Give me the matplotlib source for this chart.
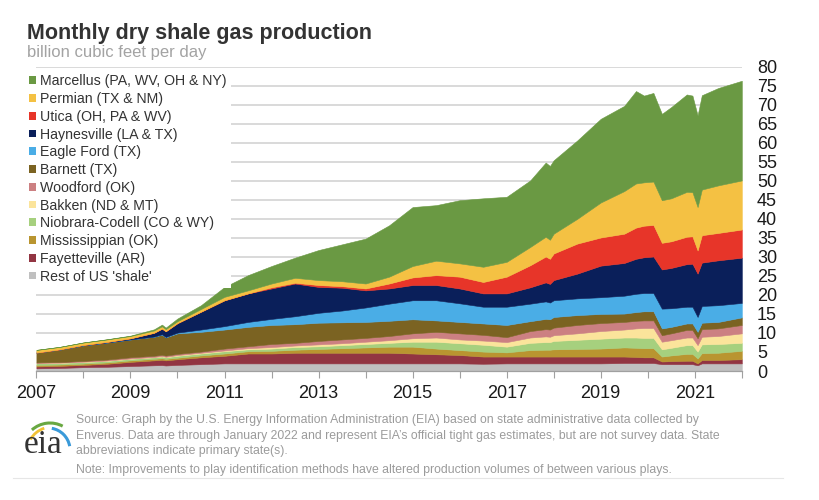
import numpy as np
import matplotlib
matplotlib.use('Agg')
import matplotlib.pyplot as plt
from matplotlib.patches import Patch, Arc

# month positions (decimal years)
dates = [2007.0, 2007.5, 2008.0, 2008.5, 2009.0, 2009.5, 2009.67, 2009.75, 2010.0, 2010.5,
         2011.0, 2011.5, 2012.0, 2012.5, 2013.0, 2013.5, 2014.0, 2014.5, 2015.0, 2015.5,
         2016.0, 2016.5, 2017.0, 2017.5, 2017.83, 2017.92, 2018.0, 2018.5, 2019.0, 2019.5,
         2019.75, 2019.92, 2020.12, 2020.3, 2020.5, 2020.83, 2020.95, 2021.06, 2021.15, 2021.5,
         2022.0]

# billion cubic feet per day, bottom layer first
rest = [0.7, 0.8, 1.0, 1.1, 1.3, 1.5, 1.55, 1.45, 1.6, 1.8,
        2.0, 2.0, 2.0, 2.0, 2.0, 2.0, 2.0, 2.0, 2.0, 2.0,
        2.0, 1.9, 2.0, 2.0, 2.0, 2.0, 2.0, 2.0, 2.0, 2.1,
        2.1, 2.1, 2.1, 1.8, 1.8, 1.8, 1.8, 1.5, 2.0, 2.0,
        2.0]
fayetteville = [0.5, 0.55, 0.6, 0.8, 1.1, 1.3, 1.4, 1.35, 1.5, 1.8,
                2.0, 2.6, 2.6, 2.8, 2.8, 2.8, 2.8, 2.8, 2.6, 2.4,
                2.2, 1.9, 1.8, 1.8, 1.8, 1.8, 1.8, 1.8, 1.8, 1.7,
                1.6, 1.5, 1.5, 0.7, 0.8, 0.9, 0.9, 0.5, 0.9, 0.9,
                1.1]
mississippian = [0.4, 0.35, 0.35, 0.35, 0.4, 0.4, 0.4, 0.4, 0.4, 0.5,
                 0.6, 0.6, 0.7, 0.8, 1.0, 1.2, 1.4, 1.6, 1.8, 1.5,
                 1.3, 1.3, 1.1, 1.7, 1.8, 1.8, 1.9, 2.0, 2.1, 2.4,
                 2.4, 2.4, 2.4, 1.3, 1.5, 1.8, 1.8, 1.3, 1.8, 1.9,
                 2.2]
niobrara = [0.5, 0.45, 0.4, 0.4, 0.4, 0.4, 0.45, 0.4, 0.5, 0.5,
            0.6, 0.5, 0.6, 0.7, 0.7, 0.8, 0.9, 1.0, 1.3, 1.8,
            1.8, 1.8, 1.5, 1.9, 2.0, 2.0, 2.2, 2.4, 2.6, 2.6,
            2.7, 2.7, 2.7, 1.9, 2.0, 2.3, 2.3, 1.8, 2.3, 2.3,
            2.1]
bakken = [0.05, 0.05, 0.1, 0.1, 0.1, 0.1, 0.15, 0.15, 0.2, 0.2,
          0.2, 0.3, 0.4, 0.4, 0.5, 0.5, 0.6, 0.7, 0.9, 1.1,
          1.0, 1.1, 1.2, 1.4, 1.5, 1.4, 1.5, 1.7, 2.0, 2.1,
          2.4, 2.6, 2.6, 2.0, 2.0, 2.0, 2.0, 1.7, 2.0, 2.1,
          2.5]
woodford = [0.1, 0.15, 0.2, 0.25, 0.3, 0.3, 0.3, 0.3, 0.3, 0.3,
            0.5, 0.5, 0.8, 0.7, 0.9, 1.0, 1.0, 1.1, 1.3, 1.5,
            1.6, 1.5, 1.3, 1.7, 1.9, 1.9, 2.0, 2.2, 2.1, 2.0,
            2.0, 2.0, 2.0, 1.7, 1.8, 2.0, 2.0, 1.8, 2.0, 2.0,
            2.2]
barnett = [2.6, 3.3, 4.1, 4.5, 4.7, 5.0, 5.3, 4.8, 5.4, 5.2,
           5.0, 5.1, 5.0, 4.9, 4.8, 4.5, 4.2, 4.0, 3.7, 3.0,
           3.0, 3.0, 3.2, 2.6, 2.7, 2.7, 2.8, 2.6, 2.4, 2.2,
           2.3, 2.4, 2.4, 1.8, 1.7, 1.7, 1.7, 1.7, 1.7, 1.7,
           2.0]
eagle_ford = [0.0, 0.0, 0.0, 0.0, 0.0, 0.05, 0.1, 0.1, 0.2, 0.6,
              0.9, 1.3, 1.6, 2.1, 2.6, 3.1, 3.8, 4.5, 5.0, 5.3,
              4.9, 4.4, 4.8, 4.6, 4.6, 4.4, 4.4, 4.4, 4.4, 4.7,
              4.8, 4.8, 4.8, 5.2, 4.9, 4.4, 4.4, 3.9, 4.4, 4.4,
              3.8]
haynesville = [0.0, 0.05, 0.1, 0.15, 0.3, 1.0, 1.5, 1.5, 2.5, 4.7,
               6.8, 7.5, 8.0, 8.6, 6.8, 6.0, 4.5, 4.0, 4.0, 4.0,
               3.9, 3.5, 3.5, 4.3, 5.0, 4.9, 5.3, 6.5, 8.3, 8.6,
               9.2, 9.4, 9.6, 10.3, 10.6, 11.2, 11.3, 11.4, 11.4, 11.8,
               11.9]
utica = [0.0, 0.0, 0.0, 0.0, 0.0, 0.0, 0.0, 0.0, 0.0, 0.0,
         0.0, 0.0, 0.3, 0.2, 0.5, 0.4, 0.5, 1.3, 2.0, 2.6,
         3.1, 3.0, 4.4, 5.8, 6.8, 6.6, 7.0, 7.9, 7.4, 7.7,
         8.2, 8.3, 8.3, 7.0, 7.0, 7.2, 7.2, 6.1, 7.2, 7.2,
         7.4]
permian = [0.7, 0.65, 0.65, 0.65, 0.6, 0.6, 0.6, 0.55, 0.5, 0.7,
           0.9, 0.8, 1.0, 1.3, 1.3, 1.3, 1.3, 1.8, 3.0, 3.8,
           3.5, 4.0, 3.9, 4.8, 5.2, 5.0, 5.2, 6.5, 9.2, 11.2,
           11.6, 11.4, 11.4, 11.2, 11.3, 11.8, 11.6, 11.4, 12.0, 12.5,
           12.9]
marcellus = [0.0, 0.0, 0.0, 0.05, 0.1, 0.3, 0.45, 0.4, 0.7, 1.0,
             2.6, 4.0, 4.6, 5.3, 7.9, 9.7, 11.8, 13.5, 15.5, 14.6,
             16.6, 18.0, 17.1, 17.5, 19.5, 19.4, 19.3, 20.6, 22.0, 22.4,
             24.3, 22.8, 23.3, 22.7, 24.0, 25.6, 25.4, 24.1, 24.8, 25.6,
             26.2]

series = [rest, fayetteville, mississippian, niobrara, bakken, woodford,
          barnett, eagle_ford, haynesville, utica, permian, marcellus]
labels = ["Rest of US 'shale'", "Fayetteville (AR)", "Mississippian (OK)",
          "Niobrara-Codell (CO & WY)", "Bakken (ND & MT)", "Woodford (OK)",
          "Barnett (TX)", "Eagle Ford (TX)", "Haynesville (LA & TX)",
          "Utica (OH, PA & WV)", "Permian (TX & NM)", "Marcellus (PA, WV, OH & NY)"]
colors = ['#c0c0c0', '#923542', '#b99530', '#a6d07e', '#fbe49b', '#cc8082',
          '#7b6322', '#4aade6', '#0a1f5a', '#e73529', '#f4c143', '#6a9943']

year_ticks = list(range(2007, 2022, 2))

footer_lines = [
    "Source: Graph by the U.S. Energy Information Administration (EIA) based on state administrative data collected by",
    "Enverus. Data are through January 2022 and represent EIA\u2019s official tight gas estimates, but are not survey data. State",
    "abbreviations indicate primary state(s).",
]
note = "Note: Improvements to play identification methods have altered production volumes of between various plays."

plt.rcParams['font.family'] = ['Liberation Sans', 'DejaVu Sans']

fig = plt.figure(figsize=(8.2, 5.0), dpi=100)
ax = fig.add_axes([36.4 / 820, 1 - 371 / 500, (741.8 - 36.4) / 820, (371 - 66.7) / 500])

ax.stackplot(dates, *series, colors=colors, linewidth=0.4,
             edgecolor='face')

ax.set_xlim(2007, 2022)
ax.set_ylim(0, 80)
ax.set_yticks(np.arange(0, 81, 5))
ax.yaxis.tick_right()
ax.tick_params(axis='y', length=0, pad=11, labelsize=13, labelcolor='#1a1a1a')
ax.set_xticks(year_ticks)
ax.set_xticks(range(2007, 2023), minor=True)
ax.tick_params(axis='x', which='both', length=5, width=0.8, color='#a0a0a0',
               direction='out')
ax.tick_params(axis='x', which='major', pad=5, labelsize=13, labelcolor='#1a1a1a')
ax.grid(axis='y', color='#d9d9d9', linewidth=1.4)
ax.set_axisbelow(True)
for side in ['top', 'left', 'right']:
    ax.spines[side].set_visible(False)
ax.spines['bottom'].set_color('#a0a0a0')
ax.spines['bottom'].set_linewidth(0.9)

handles = [Patch(facecolor=c, edgecolor='none') for c in colors[::-1]]
leg = ax.legend(handles, labels[::-1], loc='upper left',
                bbox_to_anchor=(25 / 820, 1 - 70 / 500),
                bbox_transform=fig.transFigure, fontsize=10.2,
                frameon=True, facecolor='white', edgecolor='none', framealpha=1,
                fancybox=False, borderpad=0.3, borderaxespad=0,
                handlelength=0.48, handleheight=0.48, handletextpad=0.28,
                labelspacing=0.265)
for t in leg.get_texts():
    t.set_color('#333333')

fig.text(27 / 820, 1 - 39 / 500, 'Monthly dry shale gas production',
         fontsize=15.5, fontweight='bold', color='#333333', va='baseline')
fig.text(27 / 820, 1 - 57.5 / 500, 'billion cubic feet per day',
         fontsize=12, color='#a3a3a3', va='baseline')

for i, line in enumerate(footer_lines):
    fig.text(76 / 820, 1 - (423.3 + 15.4 * i) / 500, line, fontsize=8.85,
             color='#9b9b9b', va='baseline')
fig.text(76 / 820, 1 - 472.7 / 500, note, fontsize=8.85, color='#9b9b9b',
         va='baseline')
fig.add_artist(plt.Line2D([13 / 820, 783 / 820], [1 - 478 / 500, 1 - 478 / 500],
                          color='#e6e6e6', linewidth=0.8))

# eia logo
lg = fig.add_axes([15 / 820, 1 - 465 / 500, 60 / 820, 50 / 500])
lg.set_xlim(15, 75)
lg.set_ylim(35, 85)
lg.axis('off')
lg.add_patch(Arc((52, 48), 50, 50, theta1=108, theta2=150, color='#f2c234', linewidth=2))
lg.add_patch(Arc((50, 50), 54, 54, theta1=62, theta2=132, color='#69a842', linewidth=2.2))
lg.add_patch(Arc((48, 50), 44, 44, theta1=10, theta2=80, color='#3a9ad9', linewidth=2.2))
fig.text(24 / 820, 1 - 453 / 500, 'eia', fontsize=24, color='#333333',
         family=['Liberation Serif', 'DejaVu Serif'], va='baseline')

fig.savefig('out.png', dpi=100)
